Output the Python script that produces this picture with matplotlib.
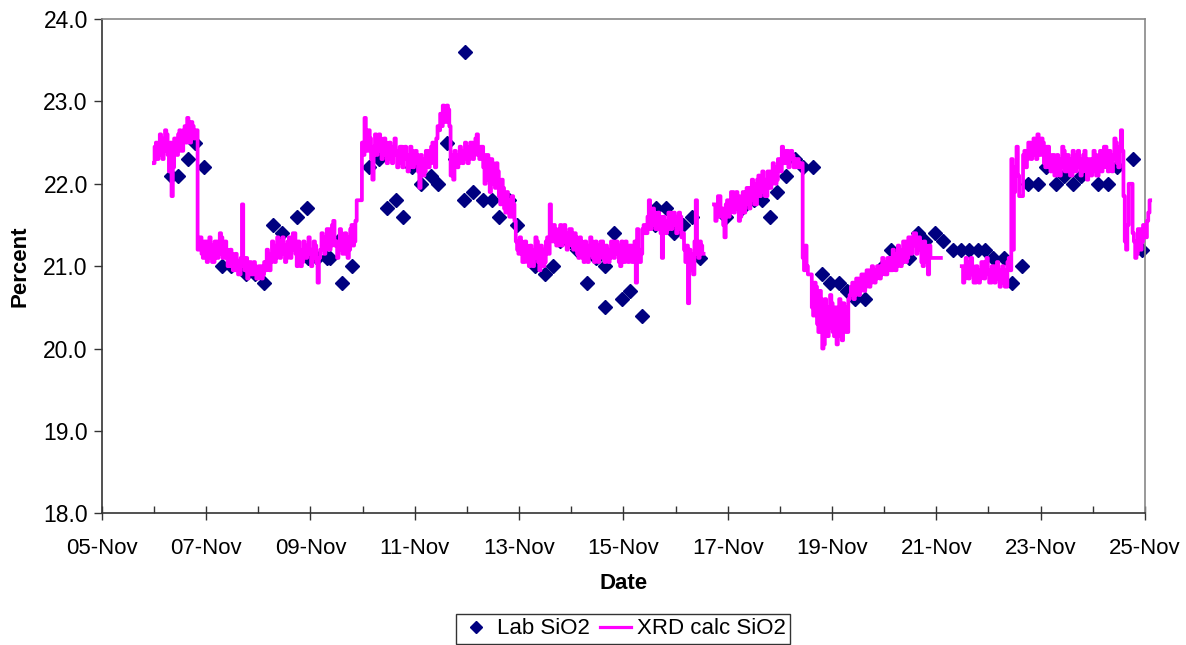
import numpy as np
import matplotlib
matplotlib.use("Agg")
import matplotlib.pyplot as plt
from matplotlib.ticker import MultipleLocator, FuncFormatter

plt.rcParams['font.family'] = ['Liberation Sans', 'DejaVu Sans']

# ---------------- data ----------------
# Lab SiO2 samples: day of November (fractional) and value
lab_day = [6.32, 6.47, 6.66, 6.79, 6.96, 7.11, 7.30, 7.47, 7.64, 7.77, 7.94, 8.12,
           8.29, 8.45, 8.74, 8.94, 8.96, 9.13, 9.31, 9.38, 9.52, 9.61, 9.79,
           10.13, 10.32, 10.47, 10.64, 10.78, 10.95, 11.12, 11.31, 11.45, 11.61,
           11.77, 11.96, 11.95, 12.12, 12.30, 12.48, 12.62, 12.81, 12.97, 13.13,
           13.31, 13.50, 13.66, 13.79, 13.98, 14.12, 14.30, 14.47, 14.64, 14.65,
           14.82, 14.97, 15.13, 15.36, 15.60, 15.63, 15.82, 15.97, 16.14, 16.31,
           16.47, 16.96, 17.28, 17.50, 17.65, 17.81, 17.95, 18.12, 18.30, 18.45,
           18.63, 18.81, 18.96, 19.13, 19.28, 19.45, 19.63, 19.79, 19.97, 20.14,
           20.33, 20.48, 20.64, 20.79, 20.97, 21.13, 21.32, 21.47, 21.63, 21.79,
           21.94, 22.09, 22.30, 22.46, 22.64, 22.76, 22.95, 23.10, 23.29, 23.45,
           23.62, 23.77, 23.94, 24.10, 24.30, 24.47, 24.77, 24.95]
lab_sio2 = [22.1, 22.1, 22.3, 22.5, 22.2, 21.2, 21.0, 21.0, 21.0, 20.9, 20.9, 20.8,
            21.5, 21.4, 21.6, 21.7, 21.1, 21.1, 21.1, 21.1, 21.3, 20.8, 21.0,
            22.2, 22.3, 21.7, 21.8, 21.6, 22.2, 22.0, 22.1, 22.0, 22.5,
            22.3, 23.6, 21.8, 21.9, 21.8, 21.8, 21.6, 21.8, 21.5, 21.2,
            21.0, 20.9, 21.0, 21.3, 21.3, 21.2, 20.8, 21.1, 21.0, 20.5,
            21.4, 20.6, 20.7, 20.4, 21.5, 21.7, 21.7, 21.4, 21.5, 21.6,
            21.1, 21.6, 21.7, 21.8, 21.8, 21.6, 21.9, 22.1, 22.3, 22.2,
            22.2, 20.9, 20.8, 20.8, 20.7, 20.6, 20.6, 20.9, 21.0, 21.2,
            21.1, 21.1, 21.4, 21.3, 21.4, 21.3, 21.2, 21.2, 21.2, 21.2,
            21.2, 21.1, 21.1, 20.8, 21.0, 22.0, 22.0, 22.2, 22.0, 22.1,
            22.0, 22.1, 22.2, 22.0, 22.0, 22.2, 22.3, 21.2]

# XRD calculated SiO2: readings every 0.025 day starting 6.00 Nov (NaN = no data)
xrd_start = 6.00
xrd_step = 0.025
nan = float('nan')
xrd_sio2 = [
    # 6 Nov
    22.25, 22.45, 22.50, 22.30, 22.35, 22.60, 22.55, 22.30, 22.40, 22.65,
    22.60, 22.35, 22.15, 22.50, 21.85, 22.20, 22.55, 22.40, 22.35, 22.60,
    22.65, 22.40, 22.40, 22.65, 22.70, 22.50, 22.80, 22.55, 22.50, 22.75,
    22.70, 22.55, 22.60, 22.65, 21.20, 21.30, 21.35, 21.15, 21.10, 21.30,
    # 7 Nov
    21.30, 21.05, 21.10, 21.35, 21.25, 21.05, 21.05, 21.30, 21.30, 21.10,
    21.15, 21.40, 21.35, 21.10, 21.10, 21.30, 21.20, 21.00, 21.00, 21.20,
    21.15, 20.95, 20.95, 21.15, 21.05, 20.90, 20.90, 21.10, 21.75, 21.00,
    20.95, 21.10, 20.85, 21.05, 21.05, 20.90, 20.90, 21.05, 21.00, 20.85,
    # 8 Nov
    20.85, 21.00, 21.00, 20.85, 20.90, 21.05, 20.95, 21.20, 21.15, 20.95,
    21.05, 21.30, 21.25, 21.05, 21.10, 21.35, 21.30, 21.10, 21.15, 21.35,
    21.25, 21.05, 21.10, 21.30, 21.35, 21.10, 21.20, 21.40, 21.40, 21.15,
    21.00, 21.30, 21.20, 21.00, 21.05, 21.30, 21.25, 21.10, 21.15, 21.35,
    # 9 Nov
    21.20, 21.00, 21.10, 21.30, 21.25, 21.05, 20.80, 21.10, 21.20, 21.40,
    21.35, 21.15, 21.20, 21.45, 21.45, 21.20, 21.25, 21.50, 21.55, 21.25,
    21.30, 21.10, 21.20, 21.45, 21.40, 21.15, 21.15, 21.40, 21.35, 21.10,
    21.20, 21.45, 21.50, 21.25, 21.30, 21.55, 21.80, 21.80, 21.80, 21.80,
    # 10 Nov
    22.50, 22.35, 22.80, 22.45, 22.40, 22.65, 22.55, 22.30, 22.05, 22.45,
    22.60, 22.35, 22.40, 22.60, 22.55, 22.30, 22.35, 22.55, 22.50, 22.25,
    22.30, 22.50, 22.45, 22.25, 22.35, 22.55, 22.40, 22.20, 22.25, 22.45,
    22.45, 22.20, 22.30, 22.45, 22.35, 22.15, 22.20, 22.45, 22.40, 22.20,
    # 11 Nov
    22.25, 22.40, 22.35, 22.15, 21.95, 22.35, 22.30, 22.10, 22.15, 22.40,
    22.40, 22.20, 22.25, 22.45, 22.50, 22.25, 22.20, 22.55, 22.70, 22.65,
    22.85, 22.70, 22.95, 22.80, 22.75, 22.95, 22.90, 22.70, 22.10, 22.35,
    22.05, 22.40, 22.35, 22.20, 22.25, 22.45, 22.40, 22.25, 22.30, 22.50,
    # 12 Nov
    22.45, 22.25, 22.30, 22.50, 22.50, 22.30, 22.35, 22.55, 22.60, 22.35,
    22.30, 22.45, 22.45, 22.20, 22.00, 22.35, 22.35, 22.05, 21.90, 22.30,
    22.25, 22.00, 21.95, 22.25, 22.15, 21.85, 21.75, 22.05, 21.95, 21.70,
    21.65, 21.90, 21.80, 21.60, 21.60, 21.85, 21.75, 21.55, 21.30, 21.20,
    # 13 Nov
    21.15, 21.35, 21.30, 21.05, 21.05, 21.30, 21.25, 21.05, 21.00, 21.25,
    21.20, 21.00, 21.10, 21.35, 21.30, 21.05, 20.95, 21.25, 21.20, 21.00,
    21.05, 21.30, 21.35, 21.15, 21.75, 21.35, 21.30, 21.50, 21.45, 21.25,
    21.25, 21.45, 21.50, 21.25, 21.30, 21.50, 21.40, 21.20, 21.25, 21.45,
    # 14 Nov
    21.45, 21.25, 21.20, 21.40, 21.35, 21.15, 21.10, 21.35, 21.30, 21.10,
    21.05, 21.30, 21.25, 21.05, 21.15, 21.35, 21.30, 21.10, 21.05, 21.30,
    21.25, 21.05, 21.10, 21.30, 21.30, 21.10, 21.05, 21.25, 21.20, 21.05,
    21.10, 21.30, 21.30, 21.10, 21.15, 21.30, 21.25, 21.05, 21.00, 21.30,
    # 15 Nov
    21.20, 21.05, 21.30, 21.10, 21.05, 21.25, 21.25, 21.05, 21.15, 21.30,
    20.80, 21.45, 21.20, 21.05, 21.15, 21.45, 21.50, 21.40, 21.40, 21.60,
    21.80, 21.45, 21.50, 21.70, 21.65, 21.45, 21.45, 21.65, 21.60, 21.40,
    21.10, 21.60, 21.55, 21.40, 21.45, 21.65, 21.65, 21.45, 21.50, 21.65,
    # 16 Nov
    21.60, 21.40, 21.45, 21.65, 21.60, 21.35, 21.40, 21.20, 21.05, 21.25,
    20.55, 21.20, 21.15, 20.95, 20.90, 21.30, 21.80, 21.15, 21.10, 21.30,
    21.25, 21.15, nan, nan, nan, nan, nan, nan, nan, nan,
    21.75, 21.55, 21.60, 21.85, 21.85, 21.60, 21.70, 21.50, 21.35, 21.75,
    # 17 Nov
    21.80, 21.60, 21.65, 21.90, 21.90, 21.65, 21.70, 21.90, 21.85, 21.55,
    21.60, 21.85, 21.90, 21.65, 21.75, 21.95, 21.95, 21.70, 21.80, 22.05,
    22.00, 21.75, 21.75, 22.05, 22.10, 21.85, 21.90, 22.15, 22.05, 21.85,
    21.85, 22.15, 22.15, 21.95, 22.00, 22.25, 22.20, 22.00, 22.05, 22.30,
    # 18 Nov
    22.30, 22.15, 22.45, 22.25, 22.25, 22.40, 22.40, 22.20, 22.30, 22.40,
    22.35, 22.20, 22.20, 22.30, 22.30, 22.20, 22.25, 22.25, 21.10, 20.95,
    21.25, 21.00, 20.90, 20.90, 20.90, 20.50, 20.40, 20.80, 20.75, 20.30,
    20.20, 20.70, 20.60, 20.00, 20.05, 20.60, 20.50, 20.15, 20.25, 20.65,
    # 19 Nov
    20.55, 20.20, 20.15, 20.50, 20.05, 20.40, 20.60, 20.15, 20.10, 20.55,
    20.50, 20.20, 20.20, 20.60, 20.65, 20.75, 20.80, 20.60, 20.65, 20.85,
    20.85, 20.65, 20.70, 20.90, 20.90, 20.70, 20.75, 20.95, 20.95, 20.75,
    20.80, 21.00, 20.95, 20.80, 20.85, 21.00, 21.00, 20.85, 20.90, 21.10,
    # 20 Nov
    21.05, 20.90, 20.90, 21.10, 21.10, 20.95, 20.95, 21.20, 21.15, 20.95,
    21.00, 21.25, 21.20, 21.00, 21.05, 21.30, 21.30, 21.05, 21.10, 21.35,
    21.35, 21.15, 21.25, 21.40, 21.40, 21.15, 21.20, 21.35, 21.30, 21.05,
    21.00, 21.30, 21.25, 21.05, 20.90, 21.25, 21.10, 21.10, 21.10, 21.10,
    # 21 Nov
    21.10, 21.10, 21.10, 21.10, nan, nan, nan, nan, nan, nan,
    nan, nan, nan, nan, nan, nan, nan, nan, nan, nan,
    21.00, 20.80, 20.85, 21.10, 21.05, 20.85, 20.90, 21.10, 21.00, 20.80,
    20.80, 21.00, 20.95, 20.80, 20.85, 21.05, 21.05, 20.85, 20.90, 21.10,
    # 22 Nov
    20.95, 20.80, 20.80, 21.00, 21.00, 20.80, 20.85, 21.05, 20.95, 20.75,
    20.80, 21.00, 20.95, 20.75, 20.75, 21.05, 21.10, 20.95, 22.30, 21.20,
    21.90, 22.20, 22.45, 22.10, 21.85, 21.85, 21.85, 22.35, 22.40, 22.20,
    22.30, 22.50, 22.50, 22.30, 22.35, 22.55, 22.45, 22.30, 22.60, 22.40,
    # 23 Nov
    22.35, 22.55, 22.50, 22.25, 22.20, 22.45, 22.45, 22.20, 22.15, 22.35,
    22.35, 22.10, 22.10, 22.35, 22.30, 22.10, 22.20, 22.45, 22.40, 22.15,
    22.15, 22.35, 22.30, 22.10, 22.10, 22.40, 22.35, 22.15, 22.20, 22.40,
    22.30, 22.10, 22.15, 22.35, 22.40, 22.15, 22.05, 22.30, 22.30, 22.10,
    # 24 Nov
    22.15, 22.40, 22.35, 22.10, 22.10, 22.35, 22.40, 22.15, 22.20, 22.45,
    22.45, 22.20, 22.15, 22.40, 22.35, 22.15, 22.30, 22.55, 22.50, 22.25,
    22.20, 22.45, 22.65, 22.40, 21.85, 21.30, 21.20, 21.50, 22.00, 22.00,
    22.00, 21.40, 21.30, 21.10, 21.15, 21.45, 21.45, 21.20, 21.30, 21.50,
    # 25 Nov
    21.50, 21.35, 21.55, 21.65, 21.80,
]

y_ticks = [18.0, 19.0, 20.0, 21.0, 22.0, 23.0, 24.0]
x_tick_days = [5, 7, 9, 11, 13, 15, 17, 19, 21, 23, 25]
x_tick_labels = ['05-Nov', '07-Nov', '09-Nov', '11-Nov', '13-Nov', '15-Nov',
                 '17-Nov', '19-Nov', '21-Nov', '23-Nov', '25-Nov']

# ---------------- plot ----------------
xrd_day = xrd_start + xrd_step * np.arange(len(xrd_sio2))

fig = plt.figure(figsize=(11.86, 6.45), dpi=100)
ax = fig.add_axes([0.0858, 0.2042, 0.9654 - 0.0858, 0.9705 - 0.2042])

ax.plot(lab_day, lab_sio2, linestyle='none', marker='D', markersize=7.5,
        color='#000080', label='Lab SiO2', zorder=2, clip_on=False)
ax.plot(xrd_day, xrd_sio2, color='#FF00FF', linewidth=2.7,
        drawstyle='steps-mid', label='XRD calc SiO2', zorder=3, clip_on=False)

ax.set_xlim(5, 25)
ax.set_ylim(18, 24)
ax.set_yticks(y_ticks)
ax.yaxis.set_major_formatter(FuncFormatter(lambda v, p: f"{v:.1f}"))
ax.set_xticks(x_tick_days)
ax.set_xticklabels(x_tick_labels)
ax.xaxis.set_minor_locator(MultipleLocator(1))

ax.tick_params(axis='x', which='major', direction='inout', length=10, width=1,
               labelsize=16, pad=13, color='#333333')
ax.tick_params(axis='x', which='minor', direction='in', length=5, width=1,
               color='#333333')
ax.tick_params(axis='y', which='major', direction='out', length=6, width=1,
               labelsize=16.5, pad=4, color='#333333')

for s in ['left', 'bottom']:
    ax.spines[s].set_color('#333333')
    ax.spines[s].set_linewidth(1.2)
for s in ['top', 'right']:
    ax.spines[s].set_color('#888888')
    ax.spines[s].set_linewidth(1.2)

ax.set_xlabel('Date', fontsize=16, fontweight='bold', labelpad=10)
ax.set_ylabel('Percent', fontsize=16, fontweight='bold', labelpad=9)

leg = fig.legend(loc='upper center', bbox_to_anchor=(0.5253, 1 - 614 / 645),
                 ncol=2, fontsize=16, frameon=True, fancybox=False,
                 edgecolor='black', borderpad=0.2, borderaxespad=0,
                 handlelength=1.4, handletextpad=0.25, columnspacing=0.45,
                 markerscale=0.8)
leg.get_frame().set_linewidth(1.0)
for h in leg.get_lines():
    h.set_drawstyle('default')
    h.set_linewidth(2.3)

fig.savefig('out.png', dpi=100)
